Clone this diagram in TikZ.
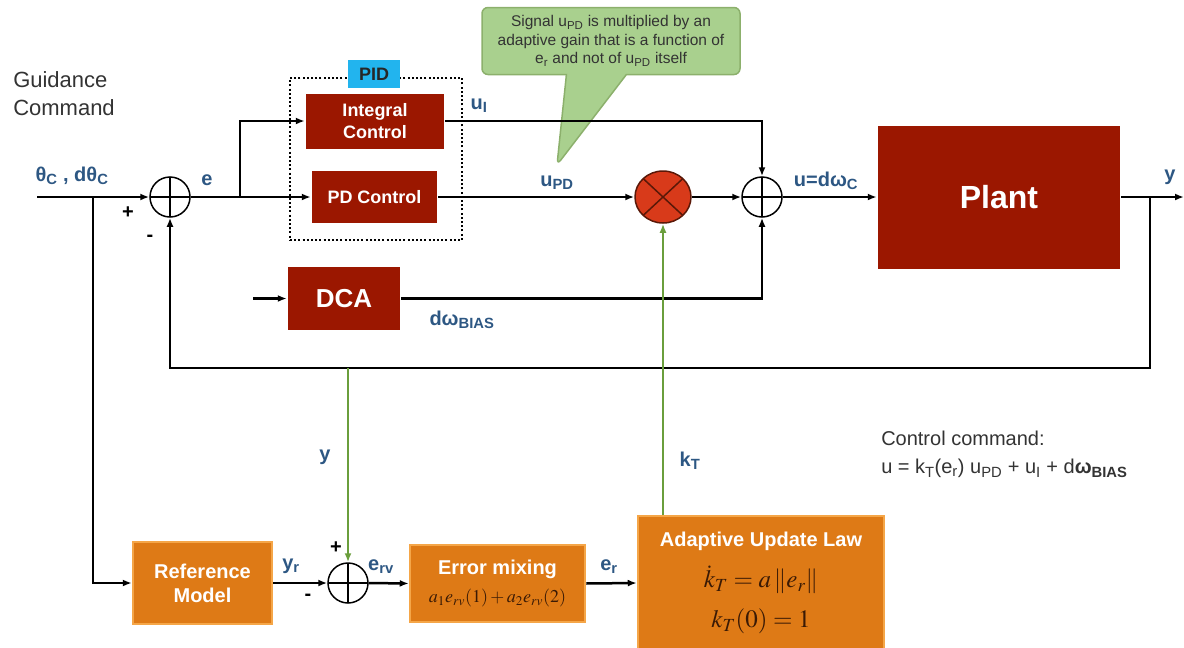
\documentclass[tikz,border=0pt]{standalone}
\usepackage{mathptmx}
\usepackage[no-math]{fontspec}
\setmainfont{Liberation Sans}
\usetikzlibrary{arrows.meta, shapes.geometric, shapes.callouts}

\definecolor{blockred}{HTML}{9B1700}
\definecolor{multred}{HTML}{D83A1A}
\definecolor{multline}{HTML}{5A1808}
\definecolor{blockorange}{HTML}{DE7A16}
\definecolor{borderorange}{HTML}{F5A648}
\definecolor{notegreen}{HTML}{A9D08E}
\definecolor{noteborder}{HTML}{8CB06C}
\definecolor{linegreen}{HTML}{6A9E3C}
\definecolor{pidcyan}{HTML}{22B4EE}
\definecolor{labelblue}{HTML}{2D5783}
\definecolor{textgray}{HTML}{333333}
\definecolor{mathbrown}{HTML}{3A1A05}

\begin{document}
\begin{tikzpicture}[x=1pt, y=-1pt, >={Latex[length=9pt,width=7pt]}, line width=2.5pt,
  redblock/.style={fill=blockred, text=white, align=center, inner sep=0pt,
    font=\bfseries\fontsize{18}{22}\selectfont},
  orblock/.style={fill=blockorange, draw=borderorange, line width=2.5pt, text=white,
    align=center, inner sep=0pt, font=\bfseries\fontsize{20}{24}\selectfont},
  sumnode/.style={circle, draw, line width=1.5pt, minimum size=40pt, inner sep=0pt,
    path picture={\draw[line width=1.2pt]
      (path picture bounding box.north) -- (path picture bounding box.south)
      (path picture bounding box.west) -- (path picture bounding box.east);}},
  lbl/.style={text=labelblue, inner sep=0pt, font=\bfseries\fontsize{20}{24}\selectfont},
  sgn/.style={inner sep=0pt, font=\bfseries\fontsize{20}{24}\selectfont},
  gline/.style={draw=linegreen, line width=2pt}]

\useasboundingbox (0,0) rectangle (1184,648);

% text on the left and right
\node[anchor=west, align=left, text=textgray, inner sep=0pt,
  font=\fontsize{22}{28}\selectfont] (guide) at (12,94) {Guidance\\Command};
\node[anchor=north west, align=left, text=textgray, inner sep=0pt,
  font=\fontsize{20}{28}\selectfont] (law) at (880,430)
  {Control command:\\u = k\textsubscript{T}(e\textsubscript{r}) u\textsubscript{PD} + u\textsubscript{I} + d\textbf{ω\textsubscript{BIAS}}};

% PID group
\node[draw, dash pattern=on 2pt off 2.2pt, line width=2pt, minimum width=172, minimum height=162] (pidbox) at (376,159) {};
\node[fill=pidcyan, minimum width=52, minimum height=28, inner sep=0pt,
  font=\bfseries\fontsize{18}{22}\selectfont, text=black!85] (pid) at (374,74) {PID};
\node[redblock, minimum width=138, minimum height=55] (int) at (375,121) {Integral\\Control};
\node[redblock, minimum width=125, minimum height=52] (pd) at (374.5,197) {PD Control};

% main loop
\node[sumnode] (s1) at (170,197) {};
\node[ellipse, draw=multline, fill=multred, line width=1.5pt, minimum width=56, minimum height=52, inner sep=0pt,
  path picture={\draw[multline, line width=1.5pt]
    (path picture bounding box.north west) -- (path picture bounding box.south east)
    (path picture bounding box.south west) -- (path picture bounding box.north east);}] (mult) at (663,197) {};
\node[sumnode] (s2) at (762,197) {};
\node[redblock, minimum width=242, minimum height=143, font=\bfseries\fontsize{32}{36}\selectfont] (plant) at (999,197) {Plant};
\node[redblock, minimum width=112, minimum height=63, font=\bfseries\fontsize{26}{30}\selectfont] (dca) at (344,298.5) {DCA};

% lower chain
\node[orblock, minimum width=139, minimum height=82] (ref) at (202.5,583) {Reference\\Model};
\node[sumnode] (s3) at (348,583) {};
\node[orblock, minimum width=175, minimum height=77] (mix) at (497.5,583.5)
  {Error mixing\\[4pt]{\color{mathbrown}\fontsize{18}{20}\selectfont$a_1e_{rv}(1)+a_2e_{rv}(2)$}};
\node[orblock, minimum width=246, minimum height=134] (adapt) at (761,583)
  {Adaptive Update Law\\[14pt]{\color{mathbrown}\fontsize{25}{30}\selectfont$\dot{k}_T=a\left\|e_r\right\|$}\\[14pt]
   {\color{mathbrown}\fontsize{25}{30}\selectfont$k_T(0)=1$}};

% note
\node[rectangle callout, callout absolute pointer={(557,165)}, callout pointer width=60pt,
  fill=notegreen, draw=noteborder, line width=1.5pt, rounded corners=6pt,
  minimum width=258, minimum height=67, inner sep=0pt, align=center, text=textgray,
  font=\fontsize{15.5}{18.5}\selectfont] (note) at (611,41)
  {Signal u\textsubscript{PD} is multiplied by an\\adaptive gain that is a function of\\e\textsubscript{r} and not of u\textsubscript{PD} itself};

% branch points
\coordinate (in) at (37,197);
\coordinate (inbr) at (93,197);
\coordinate (ibr) at (240,197);
\coordinate (ybr) at (1150,197);
\coordinate (out) at (1184,197);
\coordinate (fbc) at (1150,368);
\coordinate (dcain) at (253,298.5);

% connectors
\draw[->] (in) -- (s1.west);
\draw[->] (s1.east) -- (pd.west);
\draw[->] (ibr) |- (int.west);
\draw[->] (int.east) -| (s2.north);
\draw[->] (pd.east) -- (mult.west);
\draw[->] (mult.east) -- (s2.west);
\draw[->] (s2.east) -- (plant.west);
\draw[->] (plant.east) -- (out);
\draw[->] (dcain) -- (dca.west);
\draw[->] (dca.east) -| (s2.south);
\draw[->] (ybr) -- (fbc) -| (s1.south);
\draw[->] (inbr) |- (ref.west);
\draw[->] (ref.east) -- (s3.west);
\draw[->] (s3.east) -- (mix.west);
\draw[->] (mix.east) -- (adapt.west);
\draw[->, gline] (s3 |- fbc) -- (s3.north);
\draw[->, gline] (mult |- adapt.north) -- (mult.south);

% signal labels
\node[lbl] (lth) at (72,176) {θ\textsubscript{C} , dθ\textsubscript{C}};
\node[lbl] (le) at (207,180) {e};
\node[sgn] (p1) at (128,213) {+};
\node[sgn] (m1) at (150,238) {-};
\node[lbl] (lui) at (479,106) {u\textsubscript{I}};
\node[lbl] (lupd) at (557,183) {u\textsubscript{PD}};
\node[lbl] (lu) at (826,181) {u=dω\textsubscript{C}};
\node[lbl] (ly) at (1170,177) {y};
\node[lbl] (lbias) at (462,320) {dω\textsubscript{BIAS}};
\node[lbl] (lyg) at (325,457) {y};
\node[lbl] (lkt) at (690,461) {k\textsubscript{T}};
\node[lbl] (lyr) at (291,566) {y\textsubscript{r}};
\node[sgn] (p3) at (336,548) {+};
\node[sgn] (m3) at (308,597) {-};
\node[lbl] (lerv) at (381,567) {e\textsubscript{rv}};
\node[lbl] (ler) at (609,567) {e\textsubscript{r}};

\end{tikzpicture}
\end{document}
